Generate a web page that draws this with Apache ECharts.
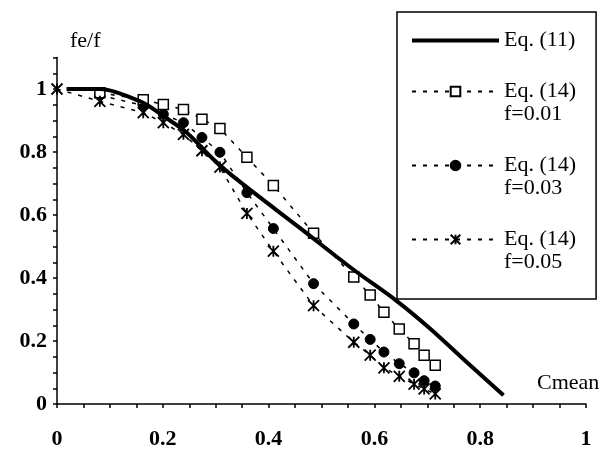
<!DOCTYPE html>
<html>
<head>
<meta charset="utf-8">
<script src="https://cdn.jsdelivr.net/npm/echarts@6/dist/echarts.min.js"></script>
<style>
  html, body { margin: 0; padding: 0; background: #fff; }
  #chart { width: 612px; height: 450px; }
</style>
</head>
<body>
<div id="chart"></div>
<script>
// values
var eq11X = [0.018, 0.081, 0.163, 0.201, 0.245, 0.295, 0.346, 0.459, 0.56, 0.64, 0.705, 0.77, 0.844];
var eq11Y = [1.0, 1.0, 0.956, 0.914, 0.862, 0.778, 0.705, 0.559, 0.427, 0.33, 0.24, 0.14, 0.028];

// the f=0.05 series also has the point at Cmean=0
var cmean = [0.081, 0.163, 0.201, 0.239, 0.274, 0.308, 0.359, 0.409, 0.485, 0.561, 0.592, 0.618, 0.647, 0.675, 0.694, 0.715];
var f001 = [0.988, 0.966, 0.951, 0.935, 0.904, 0.875, 0.783, 0.694, 0.542, 0.403, 0.346, 0.291, 0.238, 0.191, 0.155, 0.123];
var f003 = [0.98, 0.948, 0.92, 0.893, 0.846, 0.799, 0.671, 0.557, 0.382, 0.254, 0.205, 0.165, 0.128, 0.099, 0.074, 0.057];
var f005 = [1, 0.961, 0.925, 0.893, 0.856, 0.804, 0.752, 0.605, 0.485, 0.312, 0.196, 0.155, 0.115, 0.088, 0.063, 0.048, 0.032];

var names = ["Eq. (11)", "Eq. (14)\nf=0.01", "Eq. (14)\nf=0.03", "Eq. (14)\nf=0.05"];

function pairs(xs, ys) {
  return xs.map(function (x, i) { return [x, ys[i]]; });
}
function every02(v) {
  var r = Math.round(v * 100) / 100;
  return Math.abs(r / 0.2 - Math.round(r / 0.2)) < 1e-6 ? String(r) : "";
}

var serif = "Liberation Serif";
var dotted = { color: "#000", width: 1.5, type: [4, 7] };
var star = "path://M0,0L10,10M10,0L0,10M5,0L5,10";

var chart = echarts.init(document.getElementById("chart"));
chart.setOption({
  animation: false,
  backgroundColor: "#fff",
  grid: { left: 57, right: 26, top: 57.5, bottom: 42.5 },
  legend: {
    data: [
      { name: names[0], itemStyle: { opacity: 0 }, lineStyle: { width: 4 } },
      names[1], names[2], names[3]
    ],
    orient: "vertical",
    left: 397,
    top: 12,
    selectedMode: false,
    borderColor: "#000",
    borderWidth: 1.5,
    padding: [17, 20, 25, 13],
    itemGap: 5,
    itemWidth: 87,
    itemHeight: 12,
    formatter: function (name) {
      return name.indexOf("\n") >= 0 ? "\n" + name : name;
    },
    textStyle: { fontFamily: serif, fontSize: 22, color: "#000", lineHeight: 23 }
  },
  xAxis: {
    type: "value",
    min: 0,
    max: 1,
    interval: 0.05,
    name: "Cmean",
    nameLocation: "end",
    nameGap: -49,
    nameTextStyle: { fontFamily: serif, fontSize: 22, color: "#000", verticalAlign: "bottom", padding: [0, 0, 10, 0] },
    axisLine: { lineStyle: { color: "#000", width: 1.5 } },
    axisTick: { length: 4, lineStyle: { color: "#000", width: 1.5 } },
    axisLabel: { margin: 24, formatter: every02, fontFamily: serif, fontSize: 22, fontWeight: "bold", color: "#000" },
    splitLine: { show: false }
  },
  yAxis: {
    type: "value",
    min: 0,
    max: 1.1,
    interval: 0.05,
    name: "fe/f",
    nameLocation: "end",
    nameGap: 5,
    nameTextStyle: { fontFamily: serif, fontSize: 22, color: "#000", align: "left", padding: [0, 0, 0, 13] },
    axisLine: { lineStyle: { color: "#000", width: 1.5 } },
    axisTick: { length: 4, lineStyle: { color: "#000", width: 1.5 } },
    axisLabel: { margin: 10, formatter: every02, fontFamily: serif, fontSize: 22, fontWeight: "bold", color: "#000" },
    splitLine: { show: false }
  },
  series: [
    {
      name: names[0],
      type: "line",
      symbol: "none",
      smooth: 0.3,
      lineStyle: { color: "#000", width: 4 },
      itemStyle: { color: "#000" },
      data: pairs(eq11X, eq11Y),
      z: 4
    },
    {
      name: names[2],
      type: "line",
      symbol: "circle",
      symbolSize: 10,
      lineStyle: dotted,
      itemStyle: { color: "#000", borderColor: "#000", borderWidth: 1 },
      data: pairs(cmean, f003),
      z: 2
    },
    {
      name: names[1],
      type: "line",
      symbol: "rect",
      symbolSize: 10,
      lineStyle: dotted,
      itemStyle: { color: "#fff", borderColor: "#000", borderWidth: 1.5 },
      data: pairs(cmean, f001),
      z: 3
    },
    {
      name: names[3],
      type: "line",
      symbol: star,
      symbolSize: 11,
      lineStyle: dotted,
      itemStyle: { color: "#000", borderColor: "#000", borderWidth: 1.8 },
      data: pairs([0].concat(cmean), f005),
      z: 3
    }
  ]
});
</script>
</body>
</html>
